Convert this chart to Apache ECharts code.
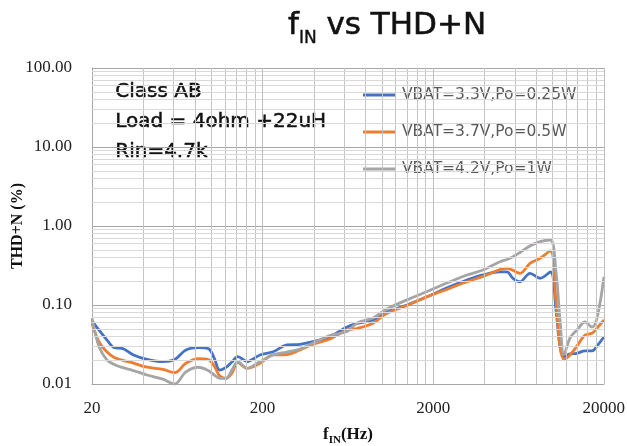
<!DOCTYPE html>
<html>
<head>
<meta charset="utf-8">
<script src="https://cdn.jsdelivr.net/npm/echarts@6/dist/echarts.min.js"></script>
<style>
    html, body { margin: 0; padding: 0; background: #fff; }
    #main { width: 627px; height: 446px; }
</style>
</head>
<body>
<div id="main"></div>
<script>
// 频率点 (Hz)
var freqs = [20, 22, 24.5, 27, 30, 35, 42, 52, 61, 71, 84, 96, 104, 112, 122, 132, 143, 162, 193, 230,
    278, 331, 395, 496, 624, 714, 886, 1070, 1400, 1836, 2505, 3150, 3908, 4915, 5404, 5861, 6440, 7370,
    8435, 9700, 10466, 11050, 11660, 12642, 13896, 15480, 17014, 18200, 20000];
// THD+N (%)
var vbat33 = [0.063, 0.048, 0.036, 0.0288, 0.0283, 0.0233, 0.0205, 0.0192, 0.0204, 0.0269, 0.0288, 0.0281,
    0.0213, 0.015, 0.0162, 0.019, 0.0222, 0.0193, 0.0233, 0.0256, 0.0312, 0.0318, 0.0343, 0.0397, 0.0527,
    0.0586, 0.0646, 0.0815, 0.100, 0.127, 0.171, 0.207, 0.240, 0.262, 0.262, 0.218, 0.197, 0.252, 0.218,
    0.262, 0.0865, 0.0297, 0.0222, 0.024, 0.0245, 0.0262, 0.0262, 0.0303, 0.0397];
var vbat37 = [0.0586, 0.034, 0.0254, 0.0217, 0.0201, 0.0184, 0.0163, 0.0153, 0.0139, 0.0183, 0.021, 0.0204,
    0.0169, 0.0126, 0.0118, 0.0137, 0.0186, 0.0158, 0.0183, 0.0233, 0.0236, 0.0269, 0.0318, 0.0371, 0.0483,
    0.0504, 0.0586, 0.0785, 0.0986, 0.127, 0.163, 0.197, 0.230, 0.281, 0.292, 0.274, 0.252, 0.337, 0.390,
    0.483, 0.112, 0.0297, 0.0204, 0.0233, 0.0303, 0.0417, 0.0438, 0.0511, 0.0646];
var vbat42 = [0.068, 0.0297, 0.0201, 0.0177, 0.0162, 0.0148, 0.013, 0.0115, 0.010, 0.0142, 0.0163, 0.0148,
    0.013, 0.0118, 0.0118, 0.015, 0.0192, 0.0158, 0.0192, 0.0233, 0.0254, 0.0277, 0.033, 0.0411, 0.0462,
    0.0592, 0.0684, 0.089, 0.116, 0.148, 0.197, 0.240, 0.277, 0.353, 0.377, 0.409, 0.462, 0.558, 0.633,
    0.665, 0.262, 0.0646, 0.0235, 0.0382, 0.0483, 0.0609, 0.0527, 0.0684, 0.228];
var seriesNames = ['VBAT=3.3V,Po=0.25W', 'VBAT=3.7V,Po=0.5W', 'VBAT=4.2V,Po=1W'];
var xTicks = [20, 200, 2000, 20000];
var yTicks = [0.01, 0.1, 1, 10, 100];
var notes = ['Class AB', 'Load = 4ohm +22uH', 'Rin=4.7k'];

var ThdChart = function() {
    var t = {
        colors : ['#4472C4', '#ED7D31', '#A5A5A5'],
        init : function(dom) {
            t.chart = echarts.init(dom);
            t.render();
        },
        pairs : function(vals) {
            var out = [];
            for (var i = 0; i < freqs.length; i++) {
                out.push([freqs[i], vals[i]]);
            }
            return out;
        },
        // 网格线 (次网格 + 竖向主网格)
        gridLines : function() {
            var lines = [];
            for (var d = 0; d < xTicks.length - 1; d++) {
                for (var k = 2; k <= 9; k++) {
                    lines.push({ xAxis : xTicks[d] * k, lineStyle : { color : '#C4C4C4' } });
                }
            }
            for (var j = 0; j < yTicks.length - 1; j++) {
                for (var m = 2; m <= 9; m++) {
                    lines.push({ yAxis : yTicks[j] * m, lineStyle : { color : '#D9D9D9' } });
                }
            }
            for (var n = 1; n < xTicks.length; n++) {
                lines.push({ xAxis : xTicks[n], lineStyle : { color : '#BDBDBD' } });
            }
            return lines;
        },
        render : function() {
            var serif = '"Liberation Serif", "Times New Roman", serif';
            var sans = '"DejaVu Sans", sans-serif';
            var series = [{
                name : 'grid',
                type : 'line',
                data : [],
                z : 1,
                silent : true,
                markLine : {
                    silent : true,
                    symbol : 'none',
                    label : { show : false },
                    lineStyle : { type : 'solid', width : 1 },
                    animation : false,
                    data : t.gridLines()
                }
            }];
            var data = [vbat33, vbat37, vbat42];
            for (var i = 0; i < data.length; i++) {
                series.push({
                    name : seriesNames[i],
                    type : 'line',
                    data : t.pairs(data[i]),
                    z : 3,
                    smooth : 0.35,
                    showSymbol : false,
                    lineStyle : { color : t.colors[i], width : 2.8 },
                    itemStyle : { color : t.colors[i] }
                });
            }
            var option = {
                animation : false,
                backgroundColor : '#fff',
                title : {
                    text : '{m|f}{s|IN}{m| vs THD+N}',
                    left : 283,
                    top : 0,
                    textStyle : {
                        rich : {
                            m : { fontFamily : sans, fontWeight : 500, fontSize : 31, color : '#111', lineHeight : 42,
                                textBorderColor : '#111', textBorderWidth : 0.6 },
                            s : { fontFamily : sans, fontWeight : 500, fontSize : 17, color : '#111', lineHeight : 17, verticalAlign : 'bottom',
                                textBorderColor : '#111', textBorderWidth : 0.4 }
                        }
                    }
                },
                legend : {
                    data : seriesNames,
                    orient : 'vertical',
                    left : 358,
                    top : 82,
                    itemGap : 21,
                    itemWidth : 32,
                    itemHeight : 3,
                    icon : 'rect',
                    textStyle : { fontFamily : sans, fontSize : 15.5, color : '#595959', padding : [0, 0, 0, 2] }
                },
                graphic : [{
                    type : 'text',
                    left : 115,
                    top : 77,
                    style : { text : notes.join('\n'), fontFamily : sans, fontSize : 20, lineHeight : 30, fill : '#111',
                        stroke : '#111', lineWidth : 0.5 }
                }],
                grid : { left : 92, right : 23, top : 68, bottom : 62, outerBoundsMode : 'none', containLabel : false },
                xAxis : {
                    type : 'log',
                    logBase : 10,
                    min : 20,
                    max : 20000,
                    interval : 1,
                    name : '{b|f}{s|IN}{b|(Hz)}',
                    nameLocation : 'middle',
                    nameGap : 40,
                    nameTextStyle : {
                        rich : {
                            b : { fontFamily : serif, fontWeight : 'bold', fontSize : 17, color : '#111', lineHeight : 22 },
                            s : { fontFamily : serif, fontWeight : 'bold', fontSize : 11, color : '#111', lineHeight : 11, verticalAlign : 'bottom' }
                        }
                    },
                    axisLine : { lineStyle : { color : '#A6A6A6' } },
                    axisTick : { show : false },
                    axisLabel : {
                        fontFamily : serif,
                        fontSize : 17,
                        color : '#222',
                        margin : 16,
                        formatter : function(v) {
                            return String(Number(Number(v).toPrecision(2)));
                        }
                    },
                    splitLine : { show : false }
                },
                yAxis : {
                    type : 'log',
                    logBase : 10,
                    min : 0.01,
                    max : 100,
                    name : 'THD+N (%)',
                    nameLocation : 'middle',
                    nameRotate : 90,
                    nameGap : 66,
                    nameMoveOverlap : false,
                    nameTextStyle : { fontFamily : serif, fontWeight : 'bold', fontSize : 16, color : '#111' },
                    axisLine : { show : true, lineStyle : { color : '#A6A6A6' } },
                    axisTick : { show : false },
                    axisLabel : {
                        fontFamily : serif,
                        fontSize : 17,
                        color : '#222',
                        margin : 20,
                        formatter : function(v) {
                            return Number(v).toFixed(2);
                        }
                    },
                    splitLine : { show : true, lineStyle : { color : '#A6A6A6' } }
                },
                series : series
            };
            t.chart.setOption(option);
        }
    };
    return t;
}();

ThdChart.init(document.getElementById('main'));
</script>
</body>
</html>
